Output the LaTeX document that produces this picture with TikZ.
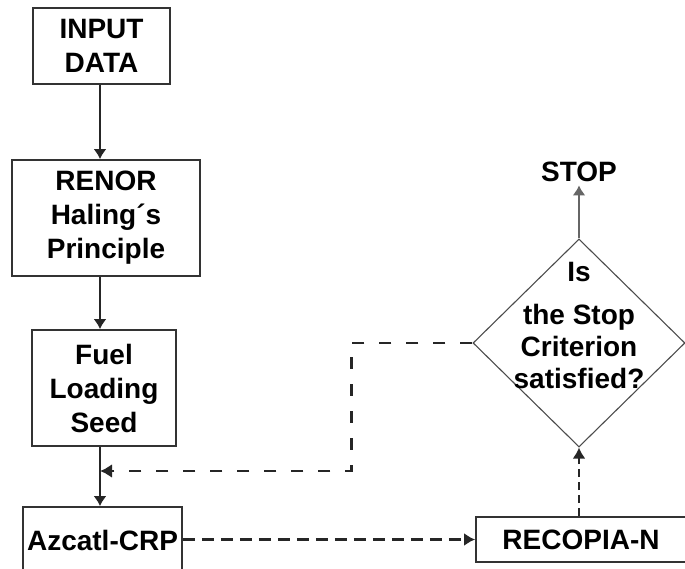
\documentclass[tikz,border=0pt]{standalone}
\usepackage{fontspec}
\setmainfont{Liberation Sans}
\usetikzlibrary{shapes.geometric,arrows.meta}
\begin{document}
\begin{tikzpicture}[x=1pt,y=-1pt]
    \tikzstyle{block}=[draw=black!80,line width=1.8pt,align=center,inner sep=0pt,
      font=\fontsize{28}{34}\selectfont\bfseries]
    \tikzstyle{decision}=[draw=black!70,line width=1.1pt,shape=diamond,inner sep=0pt,
      minimum width=212pt,minimum height=208pt]
    \tikzstyle{flow}=[-{Latex[length=10pt,width=13pt]},draw=black!85,line width=1.8pt]
    \tikzstyle{feedback}=[-{Latex[length=12pt,width=14pt]},draw=black!85,line width=2.6pt,dash pattern=on 12pt off 15pt]
    \tikzstyle{pass}=[-{Latex[length=11pt,width=13pt]},draw=black!85,line width=2.4pt,dash pattern=on 12pt off 7pt]
    \useasboundingbox (0,0) rectangle (685,569);

    \node[block,minimum width=137pt,minimum height=76pt] (input) at (101.5,46) {INPUT\\DATA};
    \node[block,minimum width=188pt,minimum height=116pt] (renor) at (106,218) {RENOR\\Haling´s\\Principle};
    \node[block,minimum width=144pt,minimum height=116pt] (seed) at (104,388) {Fuel\\Loading\\Seed};
    \node[block,minimum width=159pt,minimum height=66pt] (azcatl) at (102.5,540) {Azcatl-CRP};
    \node[block,minimum width=210pt,minimum height=45pt] (recopia) at (581,539.5) {RECOPIA-N};
    \node[decision] (crit) at (579,343) {};
    \node[align=center,font=\fontsize{28}{32}\selectfont\bfseries] (ask) at (579,326)
      {Is\\[11pt]the Stop\\Criterion\\satisfied?};
    \node[font=\fontsize{28}{34}\selectfont\bfseries] (stop) at (579,172) {STOP};
    \coordinate (merge) at (100,471);

    \draw[flow] (input.south -| merge) -- (merge |- renor.north);
    \draw[flow] (renor.south -| merge) -- (merge |- seed.north);
    \draw[flow] (seed.south -| merge) -- (merge |- azcatl.north);
    \draw[feedback] (crit.west) -- ++(-121,0) |- (merge);
    \draw[pass] (azcatl.east |- recopia.west) -- (recopia.west);
    \draw[-{Latex[length=11pt,width=13pt]},draw=black!85,line width=2.4pt,dash pattern=on 8pt off 5pt]
      (crit.south |- recopia.north) -- (crit.south);
    \draw[flow,draw=black!60] (crit.north) -- (stop.south);
\end{tikzpicture}
\end{document}
